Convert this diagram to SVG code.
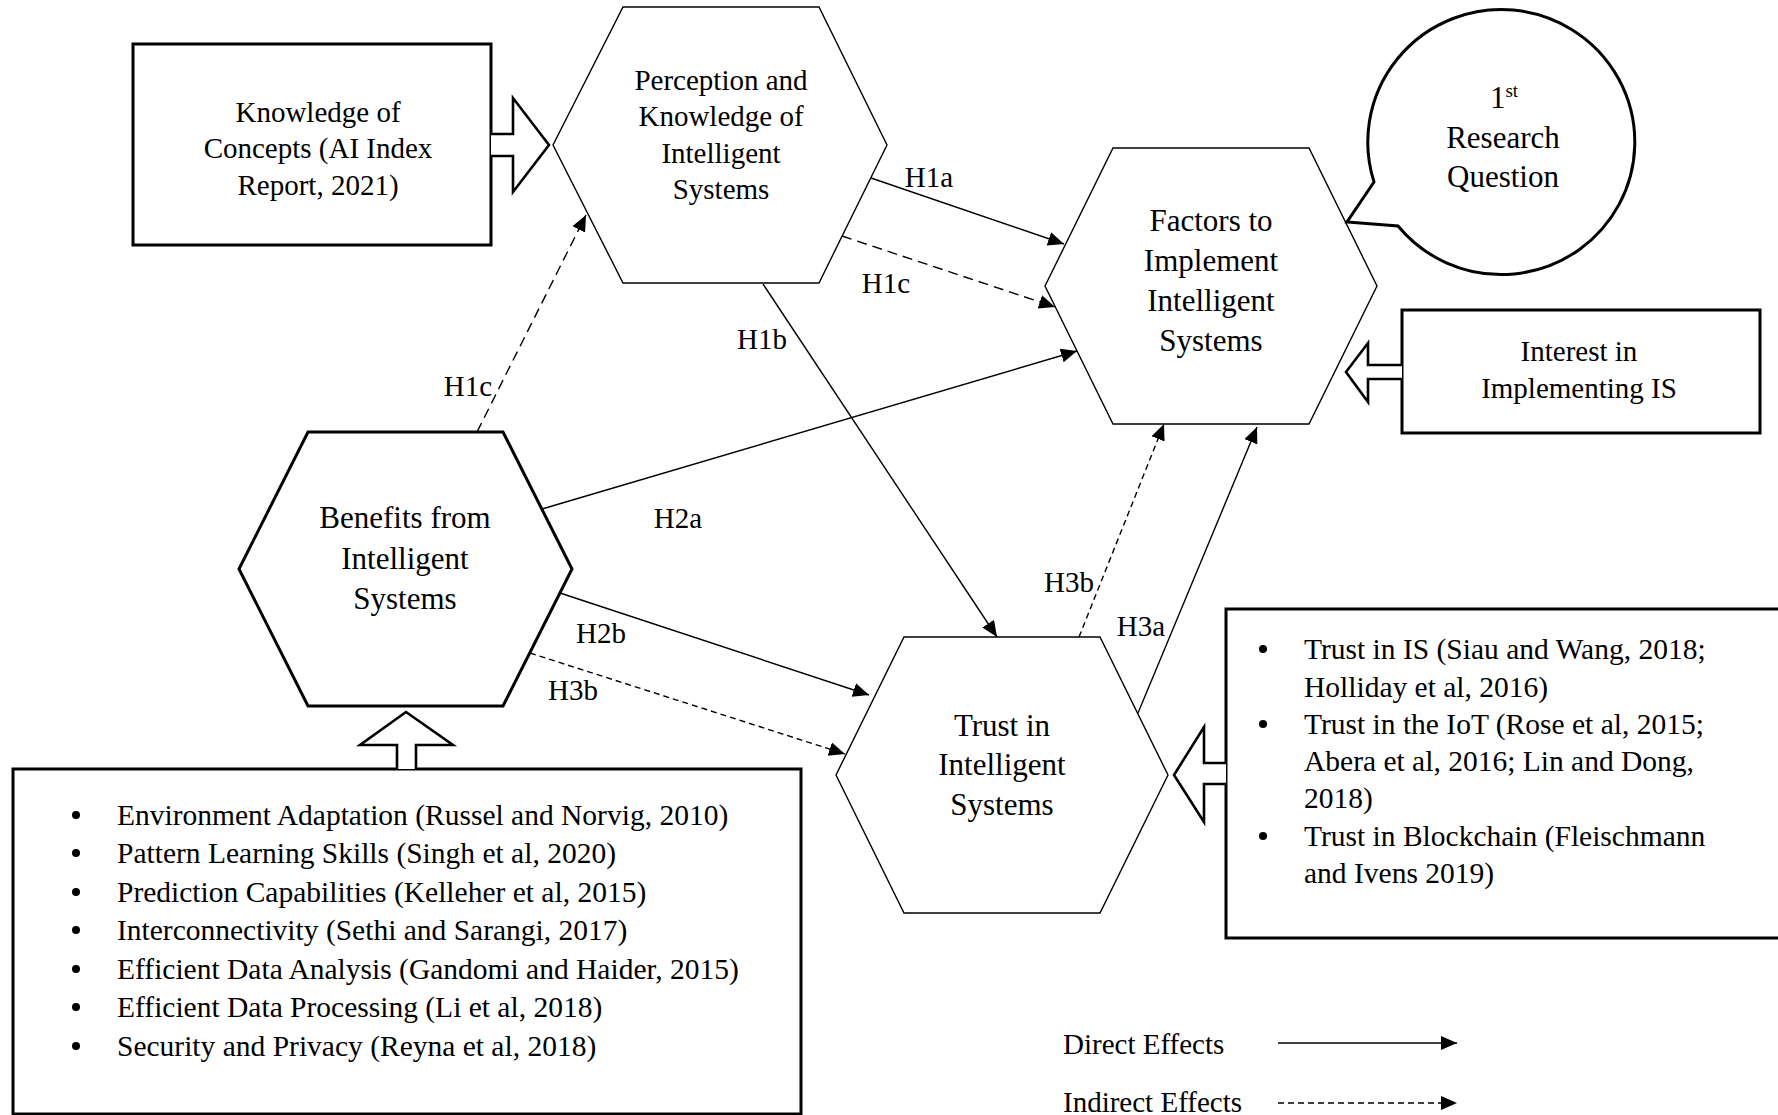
<svg xmlns="http://www.w3.org/2000/svg" width="1778" height="1115" viewBox="0 0 1778 1115">
<style>
text{font-family:"Liberation Serif","Times New Roman",serif;fill:#000;}
.t29{font-size:29px;}
.tl{font-size:29.5px;}
.t31{font-size:31px;}
.mid{text-anchor:middle;}
.hex{fill:#fff;stroke:#000;stroke-width:1.4;}
.hexb{fill:#fff;stroke:#000;stroke-width:3;}
.box{fill:#fff;stroke:#000;stroke-width:3;}
.barrow{fill:#fff;stroke:#000;stroke-width:2.6;stroke-linejoin:miter;}
.c{fill:none;stroke:#000;stroke-width:1.4;}
.dl{stroke-dasharray:10 6;}
.ds{stroke-dasharray:6 4;}
</style>
<defs>
<marker id="ah" markerUnits="userSpaceOnUse" markerWidth="17" markerHeight="15" refX="16" refY="7" orient="auto">
<path d="M0,0 L16,7 L0,14 Z" fill="#000"/>
</marker>
</defs>

<g id="knowledge-box">
<rect class="box" x="133" y="44" width="358" height="201"/>
<path class="barrow" d="M491,134 L513,134 L513,98 L549,145 L513,192 L513,156 L491,156"/>
<text class="t29 mid" x="318" y="122">Knowledge of</text>
<text class="t29 mid" x="318" y="158">Concepts (AI Index</text>
<text class="t29 mid" x="318" y="195">Report, 2021)</text>
</g>

<g id="perception">
<polygon class="hex" points="553,145 623,7 819,7 887,145 819,283 623,283"/>
<text class="t29 mid" x="721" y="90">Perception and</text>
<text class="t29 mid" x="721" y="126">Knowledge of</text>
<text class="t29 mid" x="721" y="163">Intelligent</text>
<text class="t29 mid" x="721" y="199">Systems</text>
</g>

<g id="factors">
<polygon class="hex" points="1045,286 1113,148 1309,148 1377,286 1309,424 1113,424"/>
<text class="t31 mid" x="1211" y="231">Factors to</text>
<text class="t31 mid" x="1211" y="271">Implement</text>
<text class="t31 mid" x="1211" y="311">Intelligent</text>
<text class="t31 mid" x="1211" y="351">Systems</text>
</g>

<g id="research-question">
<path class="box" stroke-width="2.6" d="M1374,182 L1347,222 L1398,226 A133.5,132.5 0 1 0 1374,182 Z"/>
<text class="t31 mid" x="1504" y="108">1<tspan font-size="19" dy="-11">st</tspan></text>
<text class="t31 mid" x="1503" y="148">Research</text>
<text class="t31 mid" x="1503" y="187">Question</text>
</g>

<g id="interest">
<rect class="box" x="1402" y="310" width="358" height="123"/>
<path class="barrow" d="M1402,365 L1368,365 L1368,343 L1346,372 L1368,402 L1368,379 L1402,379"/>
<text class="t29 mid" x="1579" y="361">Interest in</text>
<text class="t29 mid" x="1579" y="398">Implementing IS</text>
</g>

<g id="benefits">
<polygon class="hexb" points="239,569 308,432 503,432 572,569 503,706 308,706"/>
<text class="t31 mid" x="405" y="528">Benefits from</text>
<text class="t31 mid" x="405" y="569">Intelligent</text>
<text class="t31 mid" x="405" y="609">Systems</text>
</g>

<g id="trust">
<polygon class="hex" points="836,775 904,637 1100,637 1168,775 1100,913 904,913"/>
<text class="t31 mid" x="1002" y="736">Trust in</text>
<text class="t31 mid" x="1002" y="775">Intelligent</text>
<text class="t31 mid" x="1002" y="815">Systems</text>
</g>

<g id="benefits-list">
<rect class="box" x="13" y="769" width="788" height="345"/>
<path class="barrow" d="M397,769 L397,745 L360,745 L406,712 L453,745 L416,745 L416,769"/>
<circle cx="76" cy="815" r="4"/>
<circle cx="76" cy="853" r="4"/>
<circle cx="76" cy="892" r="4"/>
<circle cx="76" cy="930" r="4"/>
<circle cx="76" cy="969" r="4"/>
<circle cx="76" cy="1007" r="4"/>
<circle cx="76" cy="1046" r="4"/>
<text class="tl" x="117" y="825">Environment Adaptation (Russel and Norvig, 2010)</text>
<text class="tl" x="117" y="863">Pattern Learning Skills (Singh et al, 2020)</text>
<text class="tl" x="117" y="902">Prediction Capabilities (Kelleher et al, 2015)</text>
<text class="tl" x="117" y="940">Interconnectivity (Sethi and Sarangi, 2017)</text>
<text class="tl" x="117" y="979">Efficient Data Analysis (Gandomi and Haider, 2015)</text>
<text class="tl" x="117" y="1017">Efficient Data Processing (Li et al, 2018)</text>
<text class="tl" x="117" y="1056">Security and Privacy (Reyna et al, 2018)</text>
</g>

<g id="trust-list">
<rect class="box" x="1226" y="609" width="570" height="329"/>
<path class="barrow" d="M1226,763 L1204,763 L1204,727 L1174,775 L1204,822 L1204,784 L1226,784"/>
<circle cx="1263" cy="649" r="4"/>
<circle cx="1263" cy="724" r="4"/>
<circle cx="1263" cy="836" r="4"/>
<text class="tl" x="1304" y="659">Trust in IS (Siau and Wang, 2018;</text>
<text class="tl" x="1304" y="697">Holliday et al, 2016)</text>
<text class="tl" x="1304" y="734">Trust in the IoT (Rose et al, 2015;</text>
<text class="tl" x="1304" y="771">Abera et al, 2016; Lin and Dong,</text>
<text class="tl" x="1304" y="808">2018)</text>
<text class="tl" x="1304" y="846">Trust in Blockchain (Fleischmann</text>
<text class="tl" x="1304" y="883">and Ivens 2019)</text>
</g>

<g id="connectors">
<line class="c" x1="871" y1="178" x2="1064" y2="244" marker-end="url(#ah)"/>
<line class="c dl" x1="842" y1="236" x2="1055" y2="307" marker-end="url(#ah)"/>
<line class="c" x1="763" y1="284" x2="997" y2="637" marker-end="url(#ah)"/>
<line class="c dl" x1="477" y1="432" x2="586" y2="215" marker-end="url(#ah)"/>
<line class="c" x1="542" y1="509" x2="1077" y2="351" marker-end="url(#ah)"/>
<line class="c" x1="560" y1="593" x2="869" y2="695" marker-end="url(#ah)"/>
<line class="c ds" x1="530" y1="653" x2="845" y2="754" marker-end="url(#ah)"/>
<line class="c ds" x1="1079" y1="637" x2="1164" y2="424" marker-end="url(#ah)"/>
<line class="c" x1="1138" y1="713" x2="1257" y2="427" marker-end="url(#ah)"/>
<text class="t29 mid" x="929" y="187">H1a</text>
<text class="t29 mid" x="886" y="293">H1c</text>
<text class="t29 mid" x="762" y="349">H1b</text>
<text class="t29 mid" x="468" y="396">H1c</text>
<text class="t29 mid" x="678" y="528">H2a</text>
<text class="t29 mid" x="601" y="643">H2b</text>
<text class="t29 mid" x="573" y="700">H3b</text>
<text class="t29 mid" x="1069" y="592">H3b</text>
<text class="t29 mid" x="1141" y="636">H3a</text>
</g>

<g id="legend">
<text class="t29" x="1063" y="1054">Direct Effects</text>
<line class="c" x1="1278" y1="1043" x2="1457" y2="1043" marker-end="url(#ah)"/>
<text class="t29" x="1063" y="1112">Indirect Effects</text>
<line class="c ds" x1="1278" y1="1103" x2="1457" y2="1103" marker-end="url(#ah)"/>
</g>
</svg>
